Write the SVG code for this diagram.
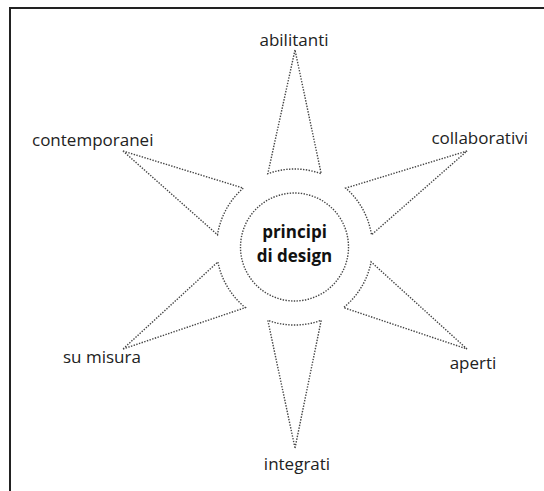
<svg xmlns="http://www.w3.org/2000/svg" width="544" height="491" viewBox="0 0 544 491">
<style>
.spike{fill:none;stroke:#444;stroke-width:1.4;stroke-dasharray:1.4 1.4}
.lbl{font-family:"Open Sans","Noto Sans",sans-serif;font-size:17px;fill:#222}
.ctr{font-family:"Open Sans","Noto Sans",sans-serif;font-size:17px;font-weight:bold;fill:#111}
</style>
<rect width="544" height="491" fill="#fff"/>
<path d="M10 491 V8 H544" fill="none" stroke="#222" stroke-width="2"/>
<g id="connectors">
<path class="spike" d="M295 50 L267.8 173.7 A78 78 0 0 1 321.2 173.7 Z"/>
<path class="spike" d="M467 151 L345.7 188.1 A78 78 0 0 1 371.5 234.8 Z"/>
<path class="spike" d="M467 349 L371.1 261.9 A78 78 0 0 1 343.6 307.6 Z"/>
<path class="spike" d="M295 448 L321.2 320.3 A78 78 0 0 1 267.8 320.3 Z"/>
<path class="spike" d="M123 349 L245.4 307.6 A78 78 0 0 1 217.9 261.9 Z"/>
<path class="spike" d="M123 151 L217.5 234.8 A78 78 0 0 1 243.3 188.1 Z"/>
</g>
<g id="center">
<circle class="spike" cx="294.5" cy="247" r="54"/>
<text class="ctr" text-anchor="middle"><tspan x="294.5" y="238">principi</tspan><tspan x="294.5" y="261.5">di design</tspan></text>
</g>
<g id="n-abilitanti"><text class="lbl" x="294" y="46" text-anchor="middle">abilitanti</text></g>
<g id="n-collaborativi"><text class="lbl" x="528" y="144" text-anchor="end">collaborativi</text></g>
<g id="n-aperti"><text class="lbl" x="473" y="369" text-anchor="middle">aperti</text></g>
<g id="n-integrati"><text class="lbl" x="297" y="470" text-anchor="middle">integrati</text></g>
<g id="n-sumisura"><text class="lbl" x="63" y="363">su misura</text></g>
<g id="n-contemporanei"><text class="lbl" x="32" y="146">contemporanei</text></g>
</svg>
